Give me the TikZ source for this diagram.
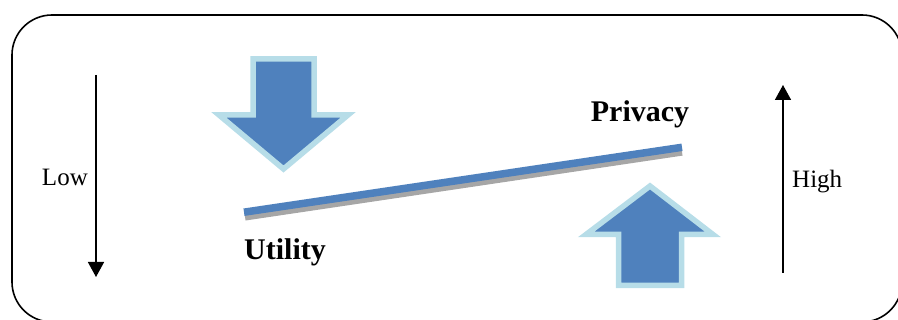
\documentclass[tikz,border=0pt]{standalone}
\usepackage{fontspec}
\setmainfont{Liberation Serif}
\usetikzlibrary{arrows.meta}
\definecolor{beamblue}{HTML}{4F81BD}
\definecolor{rimblue}{HTML}{B7DDE8}
\definecolor{shadowgray}{HTML}{A6A6A6}
\tikzset{
  frame/.style={draw=black, line width=1.6pt, rounded corners=40pt},
  bigarrow/.style={fill=beamblue, draw=rimblue, line width=5.5pt, line join=miter},
  scalearrow/.style={draw=black, line width=1.6pt, -{Triangle[width=16pt,length=15pt]}},
  scalelabel/.style={inner sep=0pt, font=\fontsize{25}{28}\selectfont},
  sidelabel/.style={inner sep=0pt, font=\fontsize{30}{33}\selectfont\bfseries},
  beam/.style={draw=beamblue, line width=7.5pt, line cap=butt},
  beamshadow/.style={draw=shadowgray, line width=7.5pt, line cap=butt}
}
\begin{document}
\begin{tikzpicture}[x=1pt, y=-1pt]
\useasboundingbox (0,0) rectangle (898,320);

% outer rounded frame (runs past the right and bottom edges)
\draw[frame] (12,15) rectangle (902,322);

% downward pressure arrow
\draw[bigarrow] (253,59) -- (314,59) -- (314,115) -- (348,115) -- (283.5,169)
  -- (219,115) -- (253,115) -- cycle;

% upward pressure arrow
\draw[bigarrow] (618.5,285.5) -- (681.5,285.5) -- (681.5,234.5) -- (713,234.5)
  -- (650,186) -- (586,234.5) -- (618.5,234.5) -- cycle;

% tilted balance beam with its shadow
\coordinate (beamL) at (244,212.2);
\coordinate (beamR) at (682,147.3);
\coordinate (shadL) at (245,216.8);
\coordinate (shadR) at (682,151.9);
\draw[beamshadow] (shadL) -- (shadR);
\draw[beam] (beamL) -- (beamR);

% side scales
\coordinate (lowTop) at (96,75);
\coordinate (lowEnd) at (96,277);
\draw[scalearrow] (lowTop) -- (lowEnd);
\coordinate (highBot) at (783,273);
\coordinate (highEnd) at (783,85);
\draw[scalearrow] (highBot) -- (highEnd);

% labels
\node[scalelabel, anchor=base east] (low) at (88,186) {Low};
\node[scalelabel, anchor=base west] (high) at (792,188) {High};
\node[sidelabel, anchor=base] (privacy) at (640,122) {Privacy};
\node[sidelabel, anchor=base west] (utility) at (244,260) {Utility};
\end{tikzpicture}
\end{document}
